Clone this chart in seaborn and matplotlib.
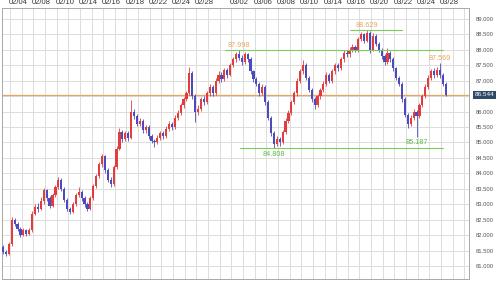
import matplotlib
matplotlib.use("Agg")
import matplotlib.pyplot as plt
import matplotlib.transforms as mtransforms
from matplotlib.patches import Rectangle
import seaborn as sns

# ---------------- data ----------------
first_open = 81.60
close = [81.45, 81.40, 81.70, 82.50, 82.35, 82.20, 82.00, 82.15, 82.05, 82.15,
         82.70, 82.90, 82.85, 83.10, 83.45, 83.20, 82.95, 83.30, 83.55, 83.80,
         83.50, 83.15, 82.85, 82.75, 83.00, 83.30, 83.40, 83.20, 83.00, 82.85,
         83.20, 83.60, 83.90, 84.30, 84.55, 84.10, 83.80, 83.65, 84.20, 84.80,
         85.35, 85.10, 85.30, 85.15, 86.00, 85.85, 85.60, 85.70, 85.40, 85.50,
         85.20, 85.05, 85.00, 85.15, 85.30, 85.20, 85.45, 85.60, 85.50, 85.80,
         85.95, 86.20, 86.40, 86.60, 87.25, 86.50, 86.00, 86.10, 86.40, 86.30,
         86.60, 86.80, 86.60, 87.00, 87.20, 87.05, 87.35, 87.20, 87.50, 87.70,
         87.85, 87.75, 87.60, 87.85, 87.70, 87.30, 87.05, 86.90, 86.60, 86.80,
         86.30, 85.80, 85.30, 84.95, 85.10, 85.00, 85.35, 85.70, 85.95, 86.30,
         86.60, 87.00, 87.30, 87.50, 87.10, 86.70, 86.40, 86.20, 86.50, 86.70,
         86.90, 87.20, 87.00, 87.30, 87.50, 87.40, 87.70, 87.90, 87.85, 88.00,
         88.10, 88.00, 88.35, 88.50, 88.30, 88.55, 88.00, 88.45, 88.20, 88.00,
         87.80, 87.60, 87.90, 87.70, 87.40, 87.10, 86.90, 86.40, 85.90, 85.60,
         85.80, 86.00, 85.85, 86.20, 86.50, 86.80, 87.10, 87.30, 87.20, 87.35,
         87.20, 86.90, 86.544]
high = [81.68, 81.52, 81.78, 82.60, 82.56, 82.42, 82.26, 82.22, 82.20, 82.22,
        82.78, 83.00, 83.05, 83.23, 83.52, 83.50, 83.26, 83.36, 83.62, 83.87,
        83.84, 83.56, 83.20, 82.92, 83.08, 83.38, 83.55, 83.46, 83.26, 83.06,
        83.27, 83.66, 83.98, 84.38, 84.62, 84.60, 84.16, 83.88, 84.26, 84.88,
        85.47, 85.40, 85.38, 85.36, 86.37, 86.08, 85.92, 85.80, 85.76, 85.58,
        85.56, 85.28, 85.12, 85.24, 85.38, 85.36, 85.52, 85.68, 85.66, 85.88,
        86.04, 86.28, 86.48, 86.68, 87.45, 87.30, 86.56, 86.22, 86.48, 86.50,
        86.68, 86.90, 86.86, 87.08, 87.30, 87.28, 87.42, 87.42, 87.58, 87.78,
        87.94, 87.998, 87.82, 87.92, 87.90, 87.76, 87.36, 87.12, 86.96, 86.90,
        86.86, 86.36, 85.86, 85.36, 85.22, 85.18, 85.42, 85.78, 86.04, 86.38,
        86.68, 87.08, 87.38, 87.67, 87.56, 87.16, 86.76, 86.46, 86.58, 86.78,
        86.98, 87.28, 87.26, 87.38, 87.58, 87.56, 87.78, 87.98, 88.00, 88.08,
        88.18, 88.16, 88.42, 88.58, 88.56, 88.629, 88.60, 88.55, 88.50, 88.26,
        88.06, 87.86, 88.05, 87.96, 87.76, 87.46, 87.16, 86.96, 86.46, 85.96,
        85.88, 86.10, 86.06, 86.28, 86.58, 86.88, 87.18, 87.38, 87.40, 87.44,
        87.569, 87.26, 86.96]
low = [81.38, 81.32, 81.36, 81.65, 82.28, 82.12, 81.94, 81.96, 81.98, 82.00,
       82.10, 82.64, 82.76, 82.80, 83.02, 83.12, 82.88, 82.90, 83.24, 83.48,
       83.42, 83.08, 82.78, 82.68, 82.72, 82.95, 83.22, 83.12, 82.92, 82.78,
       82.80, 83.15, 83.52, 83.85, 84.22, 84.02, 83.72, 83.55, 83.60, 84.14,
       84.75, 85.02, 85.05, 85.06, 85.10, 85.76, 85.52, 85.52, 85.32, 85.30,
       85.12, 84.98, 84.86, 84.94, 85.08, 85.12, 85.14, 85.38, 85.42, 85.44,
       85.72, 85.88, 86.12, 86.34, 86.55, 86.42, 85.65, 85.90, 86.02, 86.20,
       86.24, 86.52, 86.50, 86.55, 86.94, 86.96, 87.00, 87.10, 87.14, 87.44,
       87.62, 87.66, 87.50, 87.54, 87.62, 87.22, 86.96, 86.82, 86.52, 86.54,
       86.22, 85.72, 85.20, 84.808, 84.88, 84.90, 84.94, 85.28, 85.62, 85.88,
       86.24, 86.52, 86.92, 87.22, 87.02, 86.62, 86.32, 86.10, 86.14, 86.42,
       86.62, 86.84, 86.92, 86.94, 87.22, 87.30, 87.34, 87.62, 87.76, 87.78,
       87.92, 87.92, 87.94, 88.28, 88.22, 88.24, 87.90, 87.95, 88.12, 87.92,
       87.72, 87.52, 87.55, 87.62, 87.32, 87.02, 86.82, 86.32, 85.82, 85.47,
       85.54, 85.72, 85.187, 85.80, 86.14, 86.44, 86.74, 87.04, 87.10, 87.12,
       87.10, 86.82, 86.50]

current_price = 86.544
price_ticks = [81.0, 81.5, 82.0, 82.5, 83.0, 83.5, 84.0, 84.5, 85.0,
               85.5, 86.0, 86.5, 87.0, 87.5, 88.0, 88.5, 89.0]
date_labels = ["02/04", "02/08", "02/10", "02/14", "02/16", "02/18", "02/22",
               "02/24", "02/28", "03/02", "03/06", "03/08", "03/10", "03/14",
               "03/16", "03/20", "03/22", "03/24", "03/28"]
date_label_grid = [0, 2, 4, 6, 8, 10, 12, 14, 16, 19, 21, 23, 25, 27, 29,
                   31, 33, 35, 37]
# marked highs / lows: (candle index, value, kind)
marks = [(81, 87.998, "high"), (125, 88.629, "high"), (150, 87.569, "high"),
         (93, 84.808, "low"), (142, 85.187, "low")]
# support / resistance lines: (value, start index, end index)
level_lines = [(87.998, 76.3, 151.2), (88.629, 119.2, 137.1),
               (84.808, 81.4, 151.2)]

# ---------------- style ----------------
sns.set_theme(style="white")
plt.rcParams["font.family"] = ["Liberation Sans", "DejaVu Sans"]

UP = "#e23c3c"
DOWN = "#4b4bbf"
GRID = "#dcdcdc"
ORANGE = "#e8a560"
GREEN = "#7ccc5c"

fig = plt.figure(figsize=(4.99, 2.81), dpi=100)
fig.patch.set_facecolor("white")
ax = fig.add_axes([2 / 499, 1 - 278.5 / 281, 467 / 499, 271 / 281])
ax.set_facecolor("white")

# x coordinates: candle index; grid every 4 candles
grid_x = [2.4 + 4 * k for k in range(40)]
ax.set_xlim(-0.34, 160.0)
ax.set_ylim(80.595, 89.372)

for x in grid_x:
    ax.axvline(x, color=GRID, lw=0.7, zorder=0)
for y in price_ticks:
    ax.axhline(y, color=GRID, lw=0.7, zorder=0)

# candles
opens = [first_open] + close[:-1]
w = 0.75
for i, (o, c, h, l) in enumerate(zip(opens, close, high, low)):
    col = UP if c >= o else DOWN
    ax.vlines(i, l, h, color=col, lw=0.6, zorder=3)
    bottom = min(o, c)
    height = max(abs(c - o), 0.02)
    ax.add_patch(Rectangle((i - w / 2, bottom), w, height, facecolor=col,
                           edgecolor="none", zorder=4))

# current price line
ax.axhline(current_price, color=ORANGE, lw=0.9, zorder=2)

# level lines
for v, x0, x1 in level_lines:
    ax.plot([x0, x1], [v, v], color=GREEN, lw=0.8, zorder=5)

# high / low labels
for idx, v, kind in marks:
    if kind == "high":
        ax.annotate(f"{v:.3f}", (idx, v), xytext=(0, 1), textcoords="offset points",
                    ha="center", va="bottom", fontsize=5.2, color=ORANGE, zorder=6)
    else:
        ax.annotate(f"{v:.3f}", (idx, v), xytext=(0, -1.5), textcoords="offset points",
                    ha="center", va="top", fontsize=5.2, color="#5cb84c", zorder=6)

# y axis on the right (the 86.500 label is covered by the current price box)
ax.yaxis.tick_right()
ax.set_yticks(price_ticks)
ax.set_yticklabels(["" if abs(t - 86.5) < 1e-9 else f"{t:.3f}" for t in price_ticks])
ax.tick_params(axis="y", length=0, pad=4.5, labelsize=4.2, labelcolor="#555555")

# x axis labels on top
ax.set_xticks([])
trans = mtransforms.blended_transform_factory(ax.transData, ax.transAxes)
for lab, g in zip(date_labels, date_label_grid):
    ax.text(grid_x[g] - 0.4, 1.0 + 1.2 / 271, lab, transform=trans, ha="left",
            va="bottom", fontsize=5.5, color="#333333")

# current price box
ytrans = mtransforms.blended_transform_factory(ax.transAxes, ax.transData)
ax.text(1.0 + 5.5 / 467, current_price, f"{current_price:.3f}", transform=ytrans,
        ha="left", va="center", fontsize=4.6, color="white",
        bbox=dict(boxstyle="square,pad=0.25", facecolor="#2e4a66", edgecolor="none"))

for s in ax.spines.values():
    s.set_color("#a8a8a8")
    s.set_linewidth(0.7)

fig.savefig("out.png", dpi=100)
